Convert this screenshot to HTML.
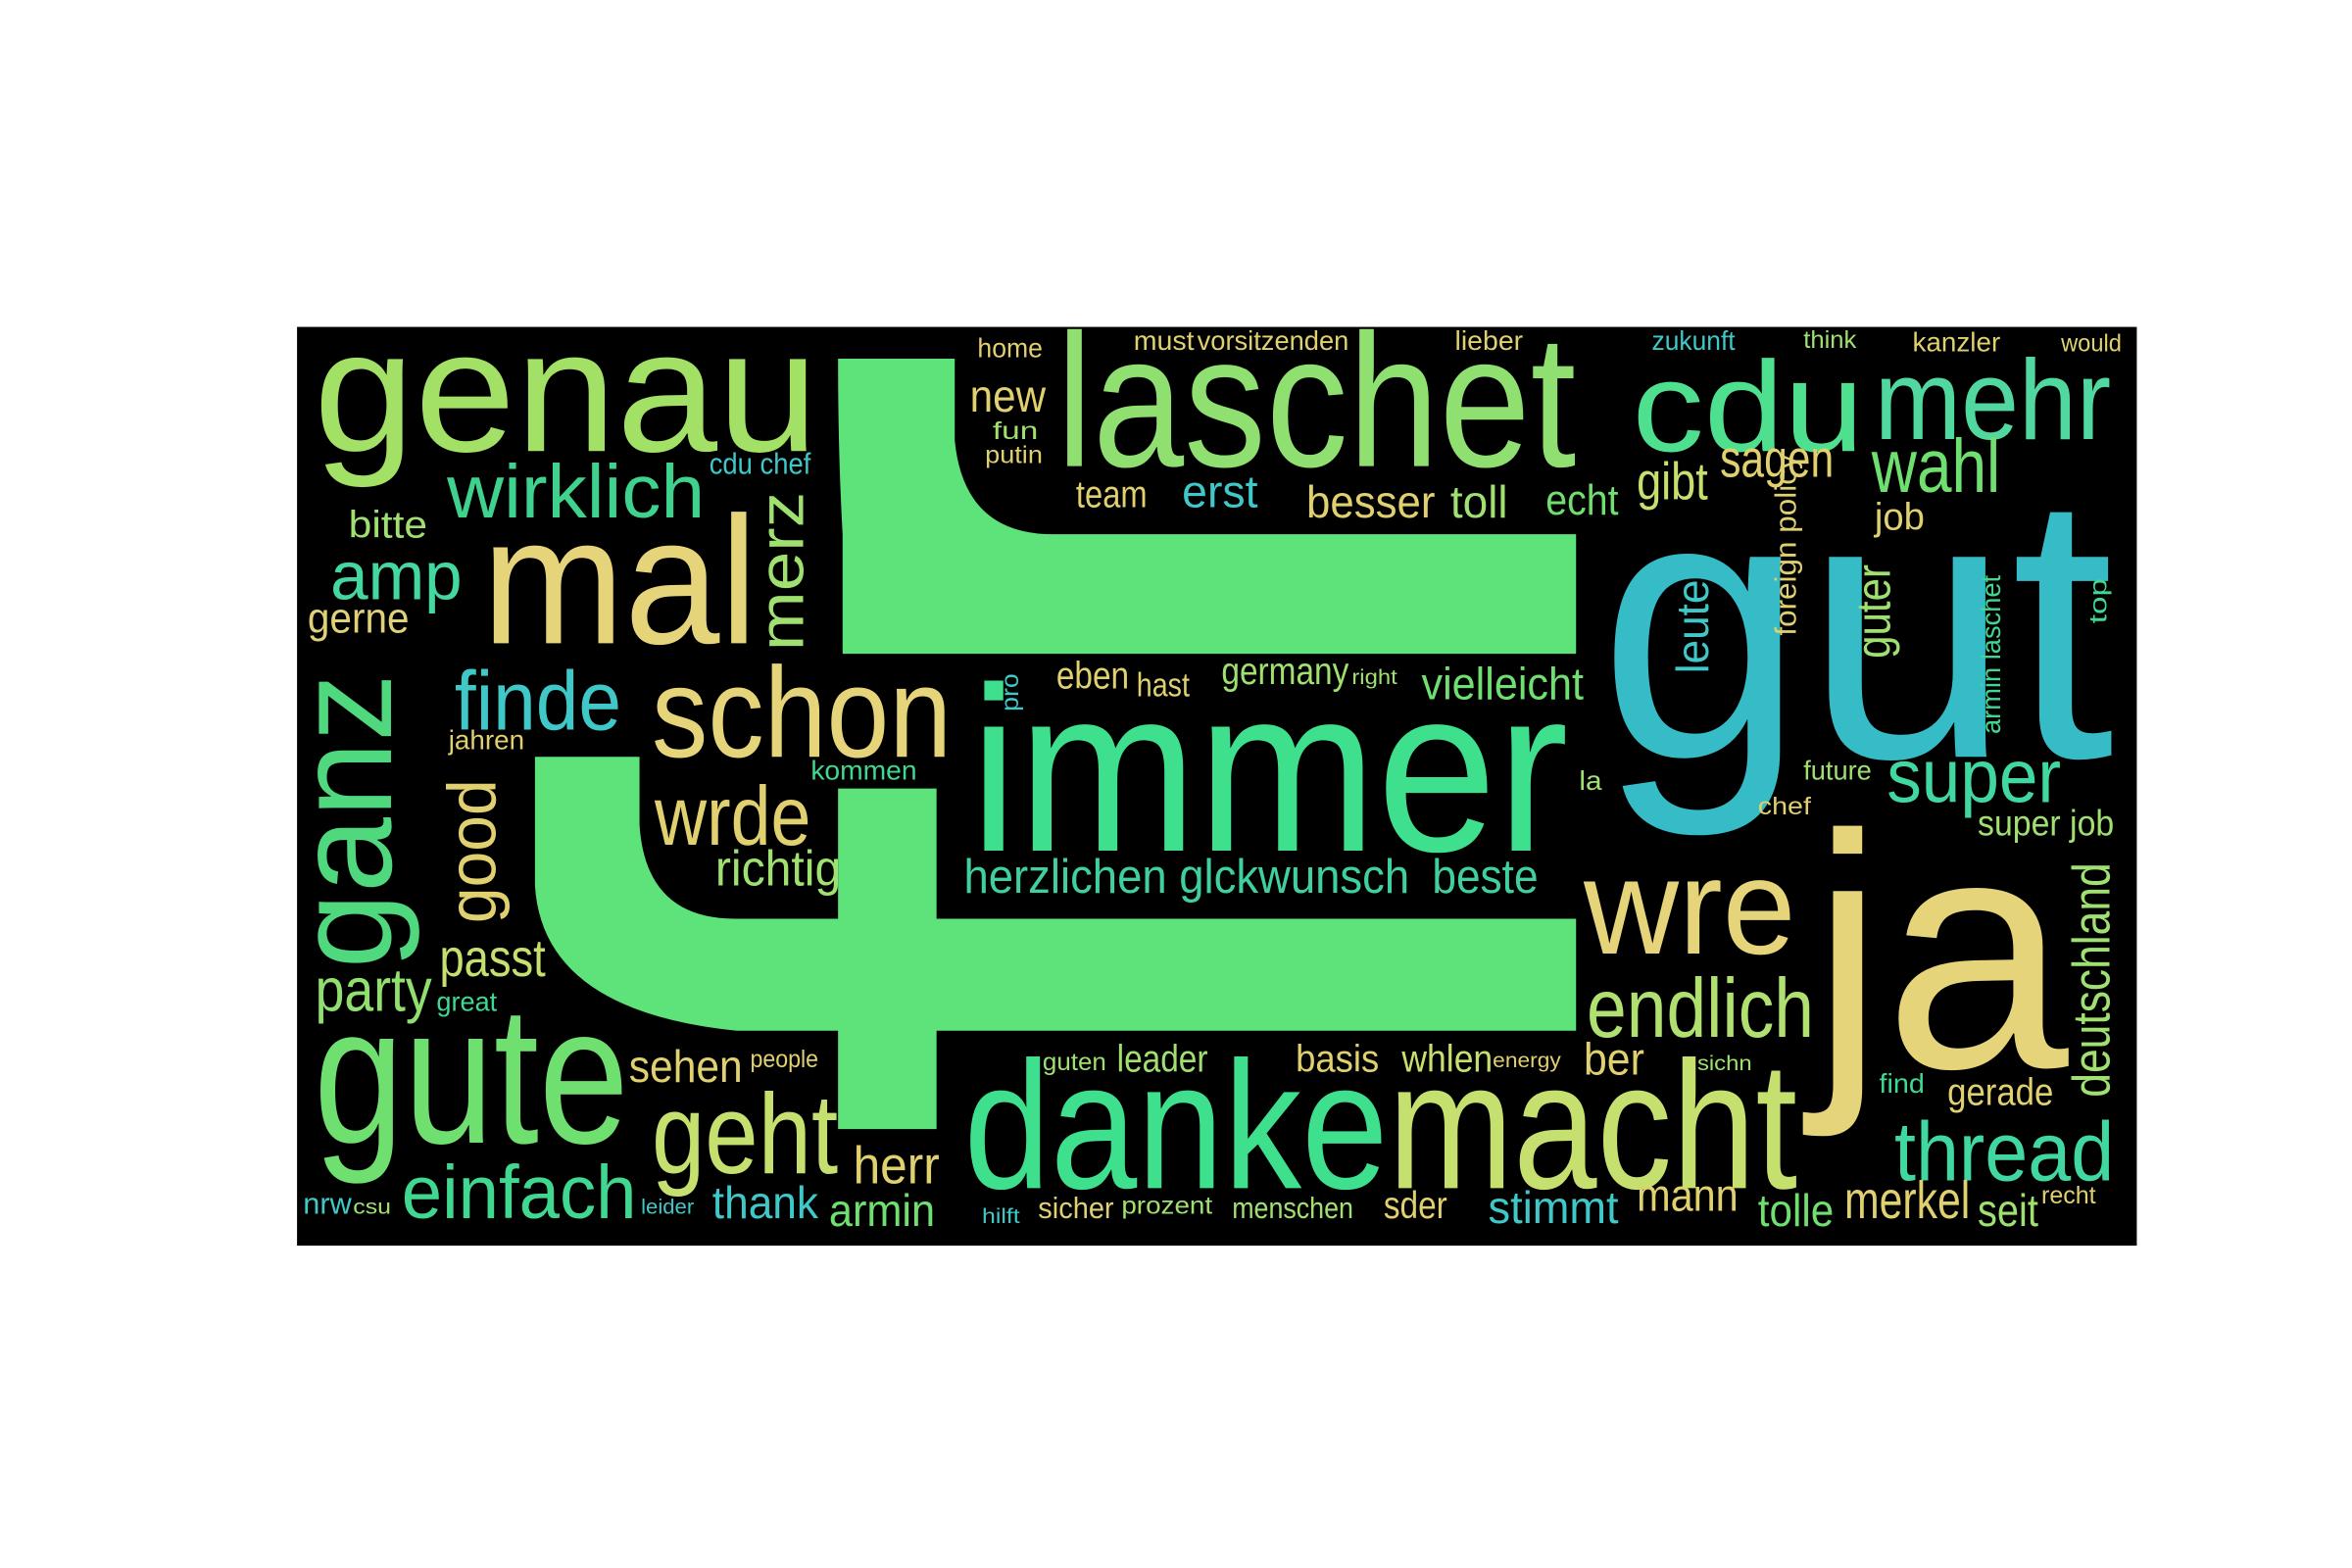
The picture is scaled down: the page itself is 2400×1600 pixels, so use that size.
<!DOCTYPE html>
<html><head><meta charset="utf-8"><title>Word cloud</title>
<style>
html,body{margin:0;padding:0;background:#fff;width:2400px;height:1600px;overflow:hidden}
svg{display:block}
text{font-family:"Liberation Sans Narrow","Liberation Sans",sans-serif;}
</style></head>
<body>
<svg id="cloud" width="2400" height="1600" viewBox="0 0 1552 1036" preserveAspectRatio="none" xmlns="http://www.w3.org/2000/svg">
<rect x="196" y="216" width="1214" height="607" fill="#000"/>
<path fill="#5ee27a" d="M553,237 L630,237 L630,291 Q636,353 695,353 L1040,353 L1040,432 L556,432 L556,353 Q553,300 553,237 Z"/>
<path fill="#5ee27a" d="M353,500 L422,500 L422,545 Q426,607 485,607 L553,607 L553,521 L618,521 L618,607 L1040,607 L1040,681 L618,681 L618,746 L553,746 L553,681 L486,681 Q358,668 353,585 Z"/>
<g id="words"></g>
</svg>
<script>
// [word, x, baselineY, length, fontSize, color, rotated]
const words = [
["genau",207,298,333,115,"#a3e066",0],
["laschet",697,308,343,125,"#8fe070",0],
["cdu",1077,298,153,85,"#4fe08f",0],
["mehr",1237,290,156,75,"#50d8a0",0],
["gut",1055,500,340,250,"#36bcc6",0],
["mal",318,425,182,120,"#e6d47a",0],
["wirklich",295,342,170,50,"#3fd28e",0],
["merz",530,430,105,42,"#9fe070",1],
["amp",218,396,87,45,"#44d8a0",0],
["bitte",230,355,52,25,"#a0e070",0],
["gerne",203,418,67,28,"#e0d07a",0],
["immer",640,562,395,155,"#3ee08e",0],
["schon",430,500,198,85,"#e6d47a",0],
["finde",300,482,110,55,"#40c8c8",0],
["ganz",258,640,195,90,"#4fd87e",1],
["good",327,610,95,45,"#e0d070",1],
["wrde",432,558,103,55,"#e0d070",0],
["richtig",472,585,83,33,"#a0e070",0],
["herzlichen glckwunsch",636,590,294,32,"#40d0a0",0],
["beste",945,590,70,32,"#40d0a0",0],
["wre",1045,630,140,90,"#e6d47a",0],
["ja",1195,705,170,220,"#e6d47a",0],
["endlich",1047,685,150,55,"#b0e070",0],
["super",1245,530,115,50,"#40d8a0",0],
["super job",1305,552,90,24,"#a0e070",0],
["deutschland",1392,725,155,35,"#a0e070",1],
["thread",1250,780,145,55,"#40d8a0",0],
["gerade",1285,730,70,25,"#e0d070",0],
["danke",636,785,280,120,"#3ee08e",0],
["macht",916,785,270,120,"#c6e070",0],
["gute",207,755,208,130,"#6fe070",0],
["einfach",265,805,155,50,"#40d890",0],
["geht",430,775,123,75,"#c6e070",0],
["herr",563,782,57,35,"#e0d070",0],
["thank",470,805,70,30,"#40c8c8",0],
["armin",547,810,70,30,"#6fe070",0],
["sehen",415,715,75,30,"#e0d070",0],
["passt",290,645,70,35,"#c6e070",0],
["party",208,668,77,40,"#90e070",0],
["leader",737,708,60,25,"#a0e070",0],
["basis",855,708,55,25,"#e0d070",0],
["whlen",925,708,60,25,"#c6e070",0],
["ber",1045,710,40,30,"#e0d070",0],
["stimmt",982,808,86,30,"#40c8c8",0],
["mann",1080,800,67,30,"#e0d070",0],
["tolle",1160,810,50,30,"#6fe070",0],
["merkel",1217,805,83,35,"#e0d070",0],
["seit",1305,810,40,30,"#a0e070",0],
["sder",913,805,42,25,"#e0d070",0],
["menschen",813,805,80,20,"#a0e070",0],
["sicher",685,805,50,20,"#e0d070",0],
["prozent",740,802,60,16,"#a0e070",0],
["wahl",1235,325,85,50,"#6fe070",0],
["sagen",1135,315,75,35,"#e0d070",0],
["gibt",1080,330,47,35,"#c6e070",0],
["besser",862,342,85,30,"#e0d070",0],
["toll",957,342,38,30,"#a0e070",0],
["echt",1020,340,48,28,"#6fe070",0],
["team",710,335,47,25,"#e0d070",0],
["erst",780,335,50,30,"#40c8c8",0],
["new",640,272,50,30,"#e0d070",0],
["fun",655,290,30,16,"#a0e070",0],
["putin",650,306,38,16,"#e0d070",0],
["eben",697,455,48,25,"#e0d070",0],
["hast",750,460,35,22,"#e0d070",0],
["germany",806,452,84,25,"#a0e070",0],
["right",892,452,30,14,"#a0e070",0],
["vielleicht",938,462,107,30,"#6fe070",0],
["leute",1127,445,62,30,"#40c8c8",1],
["guter",1247,435,62,32,"#a0e070",1],
["foreign policy",1185,420,120,20,"#e0d070",1],
["armin laschet",1320,485,105,18,"#40d890",1],
["job",1237,350,33,25,"#e0d070",0],
["kanzler",1262,232,58,18,"#e0d070",0],
["would",1360,232,40,16,"#e0d070",0],
["zukunft",1090,231,55,18,"#40c8c8",0],
["lieber",960,231,45,18,"#e0d070",0],
["vorsitzenden",790,231,100,18,"#e0d070",0],
["must",748,231,40,18,"#e0d070",0],
["think",1190,230,35,16,"#a0e070",0],
["home",645,236,43,18,"#e0d070",0],
["cdu chef",468,313,67,20,"#40c8c8",0],
["jahren",296,495,50,18,"#e0d070",0],
["kommen",535,515,70,18,"#40d890",0],
["future",1190,515,45,18,"#a0e070",0],
["chef",1160,538,35,16,"#e0d070",0],
["top",1390,412,30,16,"#40d890",1],
["nrw",200,802,32,20,"#40c8c8",0],
["csu",233,802,25,14,"#a0e070",0],
["leider",423,802,35,14,"#40c8c8",0],
["find",1240,722,30,18,"#40d890",0],
["great",288,668,40,18,"#40d890",0],
["people",495,705,45,16,"#e0d070",0],
["guten",688,707,42,16,"#a0e070",0],
["energy",985,705,45,14,"#e0d070",0],
["sichn",1120,707,36,14,"#a0e070",0],
["recht",1347,795,36,16,"#e0d070",0],
["hilft",648,808,25,14,"#40c8c8",0],
["pro",672,470,25,16,"#40c8c8",1],
["la",1042,522,15,18,"#a0e070",0]
];
const g = document.getElementById('words');
const NS = "http://www.w3.org/2000/svg";
words.forEach(function(w){
  const t = document.createElementNS(NS, 'text');
  
  
  t.setAttribute('font-size', w[4]);
  t.setAttribute('fill', w[5]);
  t.setAttribute('textLength', w[3]);
  t.setAttribute('lengthAdjust', 'spacingAndGlyphs');
  if (w[6]) {
    t.setAttribute('transform', 'translate(' + w[1] + ',' + w[2] + ') rotate(-90)');
    t.setAttribute('x', 0); t.setAttribute('y', 0);
  } else {
    t.setAttribute('x', w[1]); t.setAttribute('y', w[2]);
  }
  t.textContent = w[0];
  g.appendChild(t);
});
</script>
</body></html>
